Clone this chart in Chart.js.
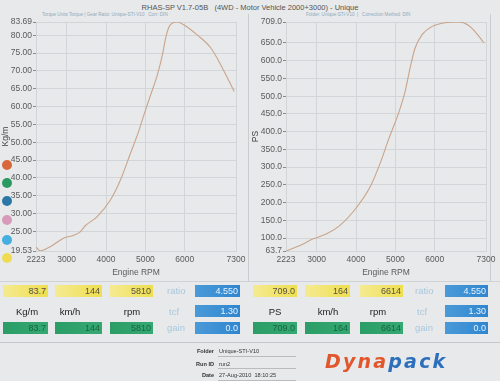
<!DOCTYPE html>
<html><head><meta charset="utf-8">
<script src="https://cdn.jsdelivr.net/npm/chart.js@4/dist/chart.umd.min.js"></script>
<style>
html,body{margin:0;padding:0;}
body{width:500px;height:381px;position:relative;overflow:hidden;background:#e7e9ea;font-family:"Liberation Sans",Arial,sans-serif;}
.abs{position:absolute;}
#c1{position:absolute;left:0;top:0;}
#c2{position:absolute;left:250px;top:0;}
.title{left:0;width:500px;top:3px;text-align:center;font-size:7.5px;color:#555;}
.sub{font-size:4.6px;color:#8fa9bd;top:12px;white-space:nowrap;}
.dot{width:10px;height:10px;border-radius:50%;left:2px;}
.box{height:12px;font-size:9px;line-height:12px;text-align:right;padding-right:2px;box-sizing:border-box;}
.y{background:linear-gradient(to right,#f5ea92,#eedf4e);color:#5a5040;}
.g{background:linear-gradient(to right,#2b9d66,#35a874);color:#17663e;}
.b{background:linear-gradient(to right,#4a9ad8,#2f86cf);color:#e6f2ff;}
.lab{font-size:9.5px;color:#222;text-align:center;line-height:12px;}
.lb{font-size:9.5px;color:#a9c8de;line-height:12px;}
.ft{font-size:5.6px;color:#333;}
.fl{font-weight:bold;text-align:right;width:40px;}
.line{height:1px;background:#bbb;}
</style></head><body>
<div class="abs title">RHAS-SP V1.7-05B &nbsp; (4WD - Motor Vehicle 2000+3000) - Unique</div>
<div class="abs sub" style="left:42px;">Torque Units Torque | Gear Ratio: Unique-STI-V10 &nbsp; Corr: DIN</div>
<div class="abs sub" style="left:306px;">Folder: Unique-STI-V10 &nbsp;| &nbsp; Correction Method: DIN</div>
<div class="abs" style="left:248px;top:14px;width:1px;height:268px;background:#c9cdd0;"></div>
<div class="abs" style="left:490px;top:14px;width:1px;height:268px;background:#c9cdd0;"></div>
<canvas id="c1" width="250" height="281"></canvas>
<canvas id="c2" width="250" height="281"></canvas>
<div class="abs dot" style="top:160px;background:#d8683c;"></div>
<div class="abs dot" style="top:178px;background:#2a9a60;"></div>
<div class="abs dot" style="top:196px;background:#2b78a8;"></div>
<div class="abs dot" style="top:215px;background:#d79ab9;"></div>
<div class="abs dot" style="top:235px;background:#46afe0;"></div>
<div class="abs dot" style="top:253px;background:#f0da52;"></div>

<div class="abs" style="left:0;top:281px;width:500px;height:1px;background:#cfd3d5;"></div>
<div class="abs" style="left:0;top:342px;width:500px;height:1px;background:#c5c9cb;"></div>

<div class="abs box y" style="left:3px;top:285px;width:45px;">83.7</div>
<div class="abs box y" style="left:55px;top:285px;width:47px;">144</div>
<div class="abs box y" style="left:110px;top:285px;width:43px;">5810</div>
<div class="abs lb" style="left:167px;top:285px;">ratio</div>
<div class="abs box b" style="left:195px;top:285px;width:45px;">4.550</div>
<div class="abs lab" style="left:5px;top:306px;width:44px;">Kg/m</div>
<div class="abs lab" style="left:50px;top:306px;width:40px;">km/h</div>
<div class="abs lab" style="left:112px;top:306px;width:40px;">rpm</div>
<div class="abs lb" style="left:169px;top:306px;">tcf</div>
<div class="abs box b" style="left:195px;top:305px;width:45px;">1.30</div>
<div class="abs box g" style="left:3px;top:322px;width:45px;">83.7</div>
<div class="abs box g" style="left:55px;top:322px;width:47px;">144</div>
<div class="abs box g" style="left:110px;top:322px;width:43px;">5810</div>
<div class="abs lb" style="left:167px;top:322px;">gain</div>
<div class="abs box b" style="left:195px;top:322px;width:45px;">0.0</div>

<div class="abs box y" style="left:253px;top:285px;width:44px;">709.0</div>
<div class="abs box y" style="left:305px;top:285px;width:45px;">164</div>
<div class="abs box y" style="left:360px;top:285px;width:43px;">6614</div>
<div class="abs lb" style="left:415px;top:285px;">ratio</div>
<div class="abs box b" style="left:445px;top:285px;width:43px;">4.550</div>
<div class="abs lab" style="left:255px;top:306px;width:40px;">PS</div>
<div class="abs lab" style="left:308px;top:306px;width:40px;">km/h</div>
<div class="abs lab" style="left:358px;top:306px;width:40px;">rpm</div>
<div class="abs lb" style="left:417px;top:306px;">tcf</div>
<div class="abs box b" style="left:445px;top:305px;width:43px;">1.30</div>
<div class="abs box g" style="left:253px;top:322px;width:44px;">709.0</div>
<div class="abs box g" style="left:305px;top:322px;width:45px;">164</div>
<div class="abs box g" style="left:360px;top:322px;width:43px;">6614</div>
<div class="abs lb" style="left:415px;top:322px;">gain</div>
<div class="abs box b" style="left:445px;top:322px;width:43px;">0.0</div>

<div class="abs ft fl" style="left:174px;top:348px;">Folder</div>
<div class="abs ft" style="left:219px;top:348px;">Unique-STI-V10</div>
<div class="abs line" style="left:218px;top:356px;width:78px;"></div>
<div class="abs ft fl" style="left:174px;top:361px;">Run ID</div>
<div class="abs ft" style="left:219px;top:361px;">run2</div>
<div class="abs line" style="left:218px;top:368px;width:78px;"></div>
<div class="abs ft fl" style="left:174px;top:372px;">Date</div>
<div class="abs ft" style="left:219px;top:372px;">27-Aug-2010 &nbsp;18:10:25</div>
<div class="abs line" style="left:218px;top:380px;width:78px;"></div>
<div class="abs" style="left:325px;top:350px;font-size:19px;font-weight:bold;font-style:italic;letter-spacing:2.2px;font-family:'DejaVu Sans',sans-serif;"><span style="color:#e2562e;">Dyna</span><span style="color:#2c6fbd;">pack</span></div>

<script>
// ---- data ----
const rpmTicks = [2223, 3000, 4000, 5000, 6000, 7300];
const torqueTicks = [19.53, 25, 30, 35, 40, 45, 50, 55, 60, 65, 70, 75, 80, 83.69];
const powerTicks = [63.7, 100, 150, 200, 250, 300, 350, 400, 450, 500, 550, 600, 650, 709.0];

const torqueRpm = [2223, 2330, 2580, 2920, 3200, 3345, 3473, 3771, 4111, 4366, 4621, 4833, 4960, 5131, 5302, 5430, 5514, 5598, 5700, 5810, 5981, 6322, 6662, 6917, 7129, 7256];
const torqueKgm = [20.6, 19.6, 20.7, 23.1, 24.0, 24.9, 26.6, 29.1, 33.8, 39.4, 46.9, 53.2, 57.6, 63.2, 68.8, 74.4, 79.2, 82.3, 83.5, 83.69, 82.85, 80.0, 76.4, 71.6, 67.0, 64.2];

const powerRpm = [2223, 2578, 2916, 3256, 3594, 4018, 4356, 4610, 4820, 4990, 5074, 5244, 5371, 5498, 5668, 5922, 6260, 6614, 6852, 7022, 7192, 7250];
const powerPS = [63.7, 79, 98, 112, 136, 187, 244, 310, 376, 425, 450, 512, 578, 635, 672, 696, 707, 709.0, 700, 682, 658, 650];

const FONT = "'Liberation Sans', Arial, sans-serif";
const LINE = '#c9a48c';
const GRID = '#d2d6d8';
const TXT = '#5a5a5a';

function makeChart(id, xs, ys, yTicks, yMin, yMax, dec, yTitle) {
  return new Chart(document.getElementById(id), {
    type: 'line',
    data: { datasets: [{ data: xs.map((x, i) => ({ x: x, y: ys[i] })), borderColor: LINE, borderWidth: 1.1, pointRadius: 0, tension: 0.4, cubicInterpolationMode: 'monotone', fill: false }] },
    options: {
      responsive: false, animation: false, devicePixelRatio: 1,
      layout: { padding: { top: 22, right: 14, left: 0, bottom: 0 } },
      plugins: { legend: { display: false }, tooltip: { enabled: false } },
      scales: {
        x: {
          type: 'linear', min: rpmTicks[0], max: rpmTicks[rpmTicks.length - 1],
          afterBuildTicks: s => { s.ticks = rpmTicks.map(v => ({ value: v })); },
          afterFit: s => { s.height = 30; },
          grid: { color: GRID, drawTicks: false },
          border: { color: GRID },
          ticks: { autoSkip: false, maxRotation: 0, padding: 4, color: TXT, font: { family: FONT, size: 8.5 }, callback: v => String(v) },
          title: { display: true, text: 'Engine RPM', color: TXT, font: { family: FONT, size: 8.5 }, padding: { top: 1, bottom: 3 } }
        },
        y: {
          type: 'linear', min: yMin, max: yMax,
          afterBuildTicks: s => { s.ticks = yTicks.map(v => ({ value: v })); },
          afterFit: s => { s.width = 36; },
          grid: { color: GRID, drawTicks: true, tickLength: 3, tickColor: '#8a8a8a' },
          border: { color: GRID },
          ticks: { autoSkip: false, padding: 1, color: TXT, font: { family: FONT, size: 8.5 }, callback: v => Number(v).toFixed(dec) },
          title: { display: true, text: yTitle, color: '#444', font: { family: FONT, size: 8.5 }, padding: { top: 1, bottom: 0 } }
        }
      }
    }
  });
}
makeChart('c1', torqueRpm, torqueKgm, torqueTicks, torqueTicks[0], torqueTicks[torqueTicks.length - 1], 2, 'Kg/m');
makeChart('c2', powerRpm, powerPS, powerTicks, powerTicks[0], powerTicks[powerTicks.length - 1], 1, 'PS');
</script>
</body></html>
